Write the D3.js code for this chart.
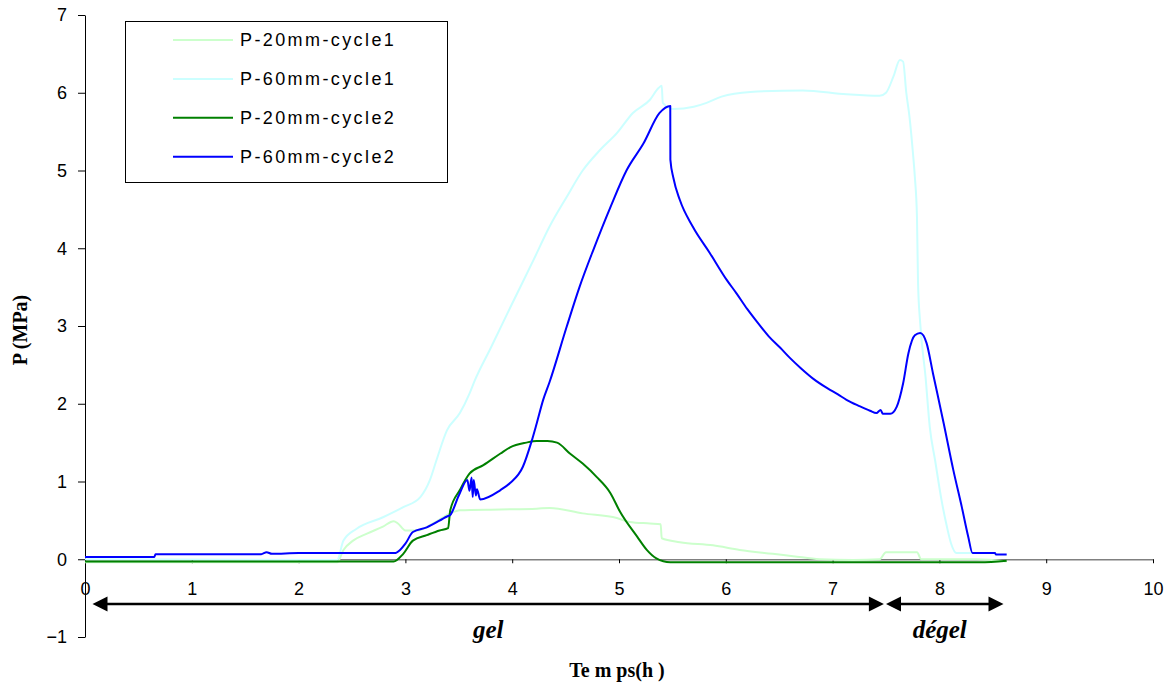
<!DOCTYPE html>
<html>
<head>
<meta charset="utf-8">
<script src="https://cdn.jsdelivr.net/npm/d3@7"></script>
<style>
  html, body { margin: 0; padding: 0; background: #ffffff; }
  svg { display: block; }
</style>
</head>
<body>
<svg id="chart" width="1169" height="684"></svg>
<script>
// ---------------- data ----------------
const seriesNames  = ["P-20mm-cycle1", "P-60mm-cycle1", "P-20mm-cycle2", "P-60mm-cycle2"];
const seriesColors = ["#ccffcc", "#ccffff", "#008000", "#0000ff"];

const xTicks = [0, 1, 2, 3, 4, 5, 6, 7, 8, 9, 10];
const yTicks = [-1, 0, 1, 2, 3, 4, 5, 6, 7];

// P-20mm-cycle1
const t20c1 = [0, 2.36, 2.42, 2.51, 2.64, 2.79, 2.89, 2.93, 3.0, 3.11, 3.26, 3.42, 3.51, 3.89, 4.23, 4.35, 4.66, 4.98, 5.1, 5.29, 5.39, 5.40, 5.57, 5.88, 6.13, 6.44, 6.63, 6.88, 7.19, 7.44, 7.50, 7.79, 7.83, 8.35, 8.63];
const p20c1 = [-0.04, -0.04, 0.12, 0.24, 0.33, 0.42, 0.49, 0.46, 0.37, 0.37, 0.46, 0.59, 0.63, 0.64, 0.65, 0.66, 0.59, 0.53, 0.48, 0.46, 0.45, 0.27, 0.22, 0.18, 0.12, 0.07, 0.04, 0.0, -0.01, 0.0, 0.09, 0.09, 0.0, 0.0, -0.03];

// P-60mm-cycle1
const t60c1 = [0, 2.36, 2.42, 2.54, 2.79, 2.98, 3.14, 3.23, 3.29, 3.39, 3.51, 3.60, 3.65, 3.80, 4.00, 4.20, 4.35, 4.51, 4.66, 4.82, 4.98, 5.13, 5.29, 5.37, 5.40, 5.41, 5.51, 5.70, 5.82, 5.96, 6.23, 6.72, 7.13, 7.44, 7.50, 7.57, 7.63, 7.66, 7.69, 7.72, 7.75, 7.77, 7.79, 7.80, 7.82, 7.87, 7.91, 7.96, 8.02, 8.07, 8.11, 8.16, 8.32];
const p60c1 = [0.0, -0.01, 0.24, 0.39, 0.54, 0.67, 0.80, 1.02, 1.27, 1.66, 1.88, 2.13, 2.30, 2.72, 3.29, 3.85, 4.28, 4.66, 5.0, 5.26, 5.48, 5.74, 5.91, 6.06, 6.09, 5.87, 5.79, 5.82, 5.87, 5.95, 6.01, 6.03, 5.98, 5.96, 6.0, 6.21, 6.42, 6.40, 6.0, 5.69, 5.26, 4.92, 4.40, 3.55, 3.04, 2.35, 1.70, 1.27, 0.76, 0.42, 0.20, 0.08, 0.08];

// P-20mm-cycle2
const t20c2 = [0, 2.89, 2.98, 3.07, 3.20, 3.32, 3.40, 3.42, 3.51, 3.60, 3.73, 3.89, 3.98, 4.13, 4.23, 4.33, 4.42, 4.54, 4.66, 4.79, 4.92, 5.01, 5.17, 5.26, 5.35, 5.48, 8.38, 8.63];
const p20c2 = [-0.03, -0.03, 0.07, 0.24, 0.31, 0.37, 0.40, 0.63, 0.89, 1.10, 1.21, 1.36, 1.44, 1.50, 1.52, 1.52, 1.50, 1.36, 1.23, 1.06, 0.85, 0.61, 0.29, 0.12, 0.01, -0.04, -0.04, -0.02];

// P-60mm-cycle2
const t60c2 = [0, 0.65, 0.66, 1.65, 1.70, 1.75, 2.0, 2.90, 2.95, 3.0, 3.07, 3.20, 3.39, 3.42, 3.50, 3.58, 3.60, 3.62, 3.63, 3.64, 3.66, 3.67, 3.70, 3.89, 3.98, 4.10, 4.18, 4.23, 4.29, 4.35, 4.51, 4.63, 4.76, 4.92, 5.07, 5.23, 5.38, 5.48, 5.481, 5.51, 5.57, 5.69, 5.85, 6.01, 6.10, 6.20, 6.30, 6.40, 6.51, 6.60, 6.70, 6.82, 6.95, 7.05, 7.13, 7.25, 7.35, 7.41, 7.45, 7.47, 7.54, 7.60, 7.66, 7.71, 7.77, 7.82, 7.88, 7.94, 8.04, 8.13, 8.21, 8.27, 8.31, 8.52, 8.53, 8.63];
const p60c2 = [0.03, 0.03, 0.065, 0.065, 0.09, 0.07, 0.08, 0.08, 0.12, 0.20, 0.35, 0.41, 0.55, 0.57, 0.82, 1.02, 0.88, 1.05, 0.80, 1.02, 0.82, 0.90, 0.77, 0.89, 0.98, 1.19, 1.51, 1.75, 2.05, 2.28, 2.99, 3.50, 3.98, 4.53, 5.0, 5.35, 5.74, 5.83, 5.14, 4.90, 4.62, 4.28, 3.94, 3.59, 3.42, 3.22, 3.04, 2.87, 2.72, 2.59, 2.46, 2.32, 2.20, 2.12, 2.05, 1.97, 1.91, 1.88, 1.92, 1.87, 1.87, 1.96, 2.26, 2.65, 2.88, 2.91, 2.78, 2.39, 1.75, 1.15, 0.67, 0.29, 0.08, 0.08, 0.06, 0.06];

// phases (arrows below the axis)
const phaseLabels = ["gel", "dégel"];
const phaseStart  = [0.07, 7.50];
const phaseEnd    = [7.48, 8.60];
const phaseLevel  = -0.575;
const phaseTextLevel = -1.013;

// ---------------- chart ----------------
const svg = d3.select("#chart");
const x = d3.scaleLinear().domain([0, 10]).range([85, 1153]);
const y = d3.scaleLinear().domain([-1, 7]).range([637, 15]);

const sansFont = "'Liberation Sans', Arial, sans-serif";
const serifFont = "'Liberation Serif', 'Times New Roman', serif";

// x axis (at y = 0)
const xAxis = d3.axisBottom(x).tickValues(xTicks).tickFormat(d3.format("d")).tickSize(4).tickSizeOuter(0).tickPadding(19);
const gx = svg.append("g").attr("transform", `translate(0,${y(0)})`).call(xAxis);
gx.select(".domain").attr("stroke", "#808080").attr("stroke-width", 1.5);
gx.selectAll(".tick line").attr("stroke", "#000");
gx.selectAll(".tick text").attr("font-family", sansFont).attr("font-size", 18).attr("fill", "#000");

// y axis
const yAxis = d3.axisLeft(y).tickValues(yTicks).tickFormat(d3.format("d")).tickSize(7).tickSizeOuter(0).tickPadding(11);
const gy = svg.append("g").attr("transform", `translate(${x(0)},0)`).call(yAxis);
gy.select(".domain").attr("stroke", "#000").attr("stroke-width", 1);
gy.selectAll(".tick line").attr("stroke", "#000");
gy.selectAll(".tick text").attr("font-family", sansFont).attr("font-size", 18).attr("fill", "#000");

// series
const tArrays = [t20c1, t60c1, t20c2, t60c2];
const pArrays = [p20c1, p60c1, p20c2, p60c2];
const line = d3.line().curve(d3.curveMonotoneX).x(d => x(d[0])).y(d => y(d[1]));
seriesNames.forEach((name, i) => {
  const pts = tArrays[i].map((t, j) => [t, pArrays[i][j]]);
  svg.append("path")
    .datum(pts)
    .attr("fill", "none")
    .attr("stroke", seriesColors[i])
    .attr("stroke-width", 2)
    .attr("stroke-linejoin", "round")
    .attr("d", line);
});

// legend
const lg = svg.append("g");
lg.append("rect").attr("x", 125.5).attr("y", 21.5).attr("width", 322).attr("height", 161)
  .attr("fill", "#fff").attr("stroke", "#000").attr("stroke-width", 1);
seriesNames.forEach((name, i) => {
  const cy = 40 + i * 38.9;
  lg.append("line").attr("x1", 173).attr("x2", 233).attr("y1", cy).attr("y2", cy)
    .attr("stroke", seriesColors[i]).attr("stroke-width", 2);
  lg.append("text").attr("x", 240).attr("y", cy + 6.3)
    .attr("font-family", sansFont).attr("font-size", 18).attr("letter-spacing", "2.4px")
    .attr("fill", "#000").text(name);
});

// phase arrows
const ah = 15, aw = 7.5;
phaseLabels.forEach((lab, i) => {
  const x1 = x(phaseStart[i]), x2 = x(phaseEnd[i]), yy = y(phaseLevel);
  svg.append("line").attr("x1", x1 + ah - 1).attr("x2", x2 - ah + 1).attr("y1", yy).attr("y2", yy)
    .attr("stroke", "#000").attr("stroke-width", 2.5);
  svg.append("path").attr("d", `M${x1},${yy} L${x1 + ah},${yy - aw} L${x1 + ah},${yy + aw} Z`).attr("fill", "#000");
  svg.append("path").attr("d", `M${x2},${yy} L${x2 - ah},${yy - aw} L${x2 - ah},${yy + aw} Z`).attr("fill", "#000");
  svg.append("text").attr("x", (x1 + x2) / 2 - (i === 1 ? 5 : 0)).attr("y", y(phaseTextLevel))
    .attr("text-anchor", "middle").attr("font-family", serifFont).attr("font-size", 25)
    .attr("font-weight", "bold").attr("font-style", "italic").attr("fill", "#000").text(lab);
});

// axis titles
svg.append("text").attr("x", 617).attr("y", 677).attr("text-anchor", "middle")
  .attr("font-family", serifFont).attr("font-size", 20).attr("font-weight", "bold")
  .attr("fill", "#000").attr("xml:space", "preserve").style("white-space", "pre").text("Te m ps(h )");
svg.append("text").attr("transform", "translate(27,330) rotate(-90)").attr("text-anchor", "middle")
  .attr("font-family", serifFont).attr("font-size", 20).attr("font-weight", "bold")
  .attr("fill", "#000").text("P (MPa)");
</script>
</body>
</html>
